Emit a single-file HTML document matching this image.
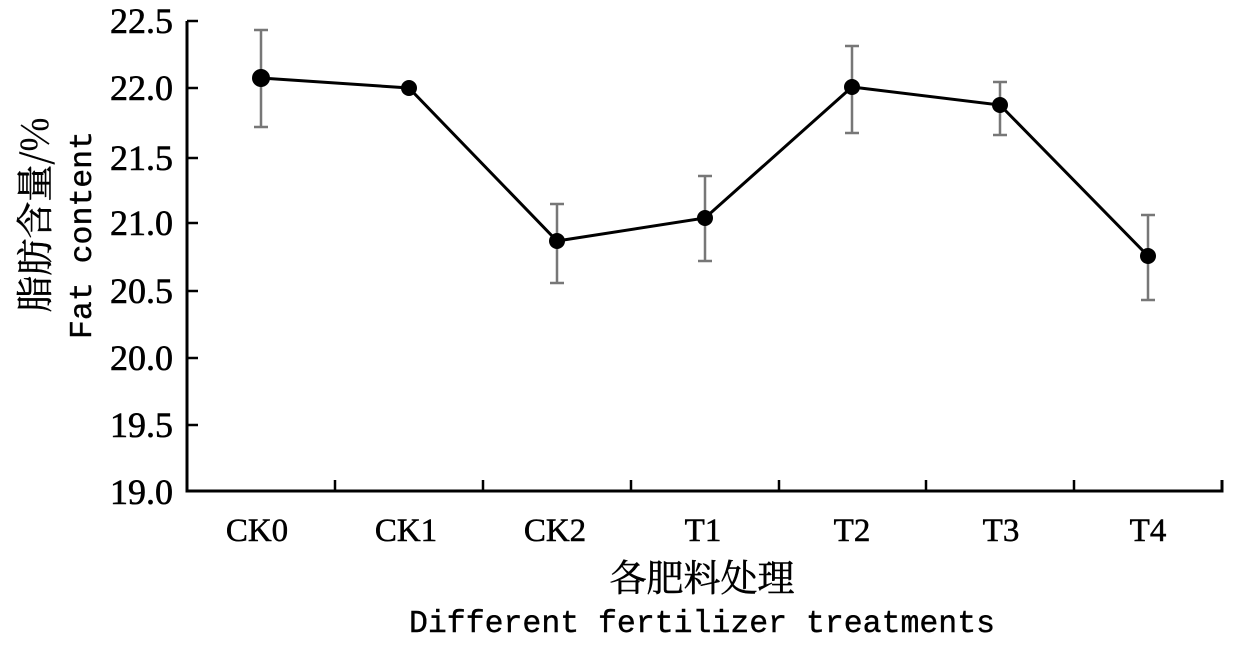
<!DOCTYPE html>
<html><head><meta charset="utf-8"><style>body{margin:0;background:#fff}</style></head><body>
<svg width="1250" height="642" xmlns="http://www.w3.org/2000/svg">
<rect width="1250" height="642" fill="#fff"/>
<g stroke="#000" stroke-width="3" fill="none">
<polyline points="187,21 187,491 1222,491 1222,480"/>
<g stroke-width="2.5">
<line x1="187" y1="21" x2="198" y2="21"/><line x1="187" y1="88" x2="198" y2="88"/>
<line x1="187" y1="158" x2="198" y2="158"/><line x1="187" y1="223" x2="198" y2="223"/>
<line x1="187" y1="291" x2="198" y2="291"/><line x1="187" y1="358" x2="198" y2="358"/>
<line x1="187" y1="425" x2="198" y2="425"/>
<line x1="335" y1="491" x2="335" y2="480"/><line x1="483" y1="491" x2="483" y2="480"/>
<line x1="631" y1="491" x2="631" y2="480"/><line x1="779" y1="491" x2="779" y2="480"/>
<line x1="926" y1="491" x2="926" y2="480"/><line x1="1074" y1="491" x2="1074" y2="480"/>
</g>
</g>
<g stroke="#777" stroke-width="2.5" fill="none">
<path d="M261,30V127M254,30H268M254,127H268"/>
<path d="M557,204V283M550,204H564M550,283H564"/>
<path d="M705,176V261M698,176H712M698,261H712"/>
<path d="M852,46V133M845,46H859M845,133H859"/>
<path d="M1000,82V135M993,82H1007M993,135H1007"/>
<path d="M1148,215V300M1141,215H1155M1141,300H1155"/>
</g>
<polyline points="261,78 409,88 557,241 705,218 852,87 1000,105 1148,256" stroke="#000" stroke-width="3" fill="none"/>
<g fill="#000">
<circle cx="261" cy="78" r="9"/><circle cx="409" cy="88" r="8"/><circle cx="557" cy="241" r="8"/>
<circle cx="705" cy="218" r="8"/><circle cx="852" cy="87" r="8"/><circle cx="1000" cy="105" r="8"/><circle cx="1148" cy="256" r="8"/>
</g>
<g font-family="Liberation Serif, serif" font-size="36" text-anchor="end" fill="#000" stroke="#000" stroke-width="0.6">
<text x="173" y="33">22.5</text><text x="173" y="100">22.0</text><text x="173" y="170">21.5</text>
<text x="173" y="235">21.0</text><text x="173" y="303">20.5</text><text x="173" y="370">20.0</text>
<text x="173" y="437">19.5</text><text x="173" y="504">19.0</text>
</g>
<g font-family="Liberation Serif, serif" font-size="33" text-anchor="middle" fill="#000" stroke="#000" stroke-width="0.5">
<text x="257" y="541">CK0</text><text x="406" y="541">CK1</text><text x="555" y="541">CK2</text>
<text x="703" y="541">T1</text><text x="852" y="541">T2</text><text x="1001" y="541">T3</text><text x="1148" y="541">T4</text>
</g>
<text x="702" y="591" text-anchor="middle" font-family="Noto Serif CJK SC, serif" font-size="37" stroke="#000" stroke-width="0.5">各肥料处理</text>
<text x="702" y="632" text-anchor="middle" font-family="Liberation Mono, monospace" font-size="31.5" stroke="#000" stroke-width="0.4">Different fertilizer treatments</text>
<text transform="translate(48,215) rotate(-90)" text-anchor="middle" font-family="Noto Serif CJK SC, serif" font-size="37" stroke="#000" stroke-width="0.5">脂肪含量/%</text>
<text transform="translate(91,235) rotate(-90)" text-anchor="middle" font-family="Liberation Mono, monospace" font-size="31.5" stroke="#000" stroke-width="0.4">Fat content</text>
</svg>
</body></html>
